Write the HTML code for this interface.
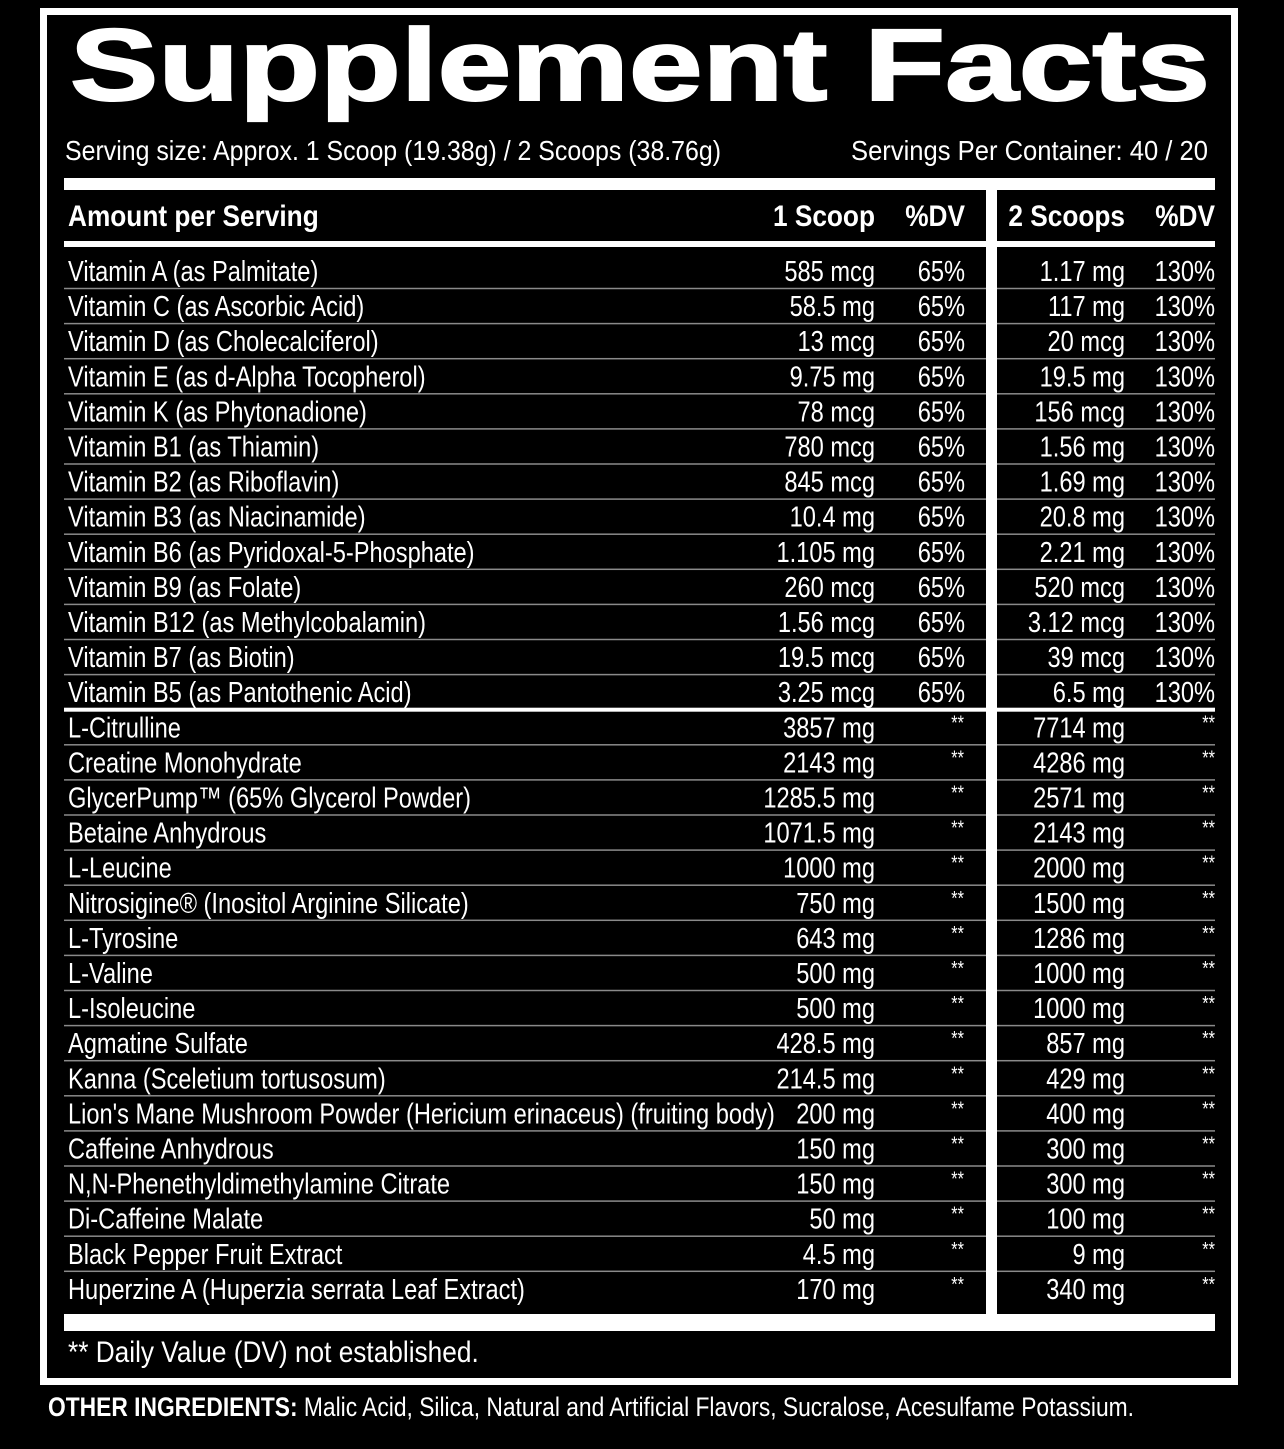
<!DOCTYPE html>
<html><head><meta charset="utf-8"><style>
html,body{margin:0;padding:0;background:#000;}
svg{display:block}
text{font-family:"Liberation Sans",sans-serif;fill:#fff;}
</style></head><body>
<svg width="1284" height="1449" viewBox="0 0 1284 1449" xmlns="http://www.w3.org/2000/svg">
<rect width="1284" height="1449" fill="#000"/>
<rect x="43.5" y="11.5" width="1191" height="1370" fill="none" stroke="#fff" stroke-width="7"/>
<text x="70" y="100" font-weight="bold" font-size="102" textLength="1140" lengthAdjust="spacingAndGlyphs" stroke="#fff" stroke-width="2">Supplement Facts</text>
<text x="65" y="160" font-size="28" fill="#eee" textLength="656" lengthAdjust="spacingAndGlyphs">Serving size: Approx. 1 Scoop (19.38g) / 2 Scoops (38.76g)</text>
<text x="851" y="160" font-size="28" textLength="357" lengthAdjust="spacingAndGlyphs">Servings Per Container: 40 / 20</text>
<rect x="64" y="178" width="1151" height="12" fill="#fff"/>
<rect x="64" y="241" width="1151" height="6" fill="#fff"/>
<rect x="986" y="190" width="11" height="1124" fill="#fff"/>
<rect x="64" y="1314" width="1151" height="17" fill="#fff"/>
<g id="rows" font-size="29"></g>
<text x="48" y="1416" font-size="27" textLength="1086" lengthAdjust="spacingAndGlyphs"><tspan font-weight="bold">OTHER INGREDIENTS:</tspan> Malic Acid, Silica, Natural and Artificial Flavors, Sucralose, Acesulfame Potassium.</text>
</svg>
<script>
var K=0.815;
function t(x,y,s,a,ex,k){return '<text transform="translate('+x+' '+y+') scale('+(k||K)+' 1)"'+(a?' text-anchor="'+a+'"':'')+(ex||'')+'>'+s+'</text>';}
var d=[
["Vitamin A (as Palmitate)","585 mcg","65%","1.17 mg","130%"],
["Vitamin C (as Ascorbic Acid)","58.5 mg","65%","117 mg","130%"],
["Vitamin D (as Cholecalciferol)","13 mcg","65%","20 mcg","130%"],
["Vitamin E (as d-Alpha Tocopherol)","9.75 mg","65%","19.5 mg","130%"],
["Vitamin K (as Phytonadione)","78 mcg","65%","156 mcg","130%"],
["Vitamin B1 (as Thiamin)","780 mcg","65%","1.56 mg","130%"],
["Vitamin B2 (as Riboflavin)","845 mcg","65%","1.69 mg","130%"],
["Vitamin B3 (as Niacinamide)","10.4 mg","65%","20.8 mg","130%"],
["Vitamin B6 (as Pyridoxal-5-Phosphate)","1.105 mg","65%","2.21 mg","130%"],
["Vitamin B9 (as Folate)","260 mcg","65%","520 mcg","130%"],
["Vitamin B12 (as Methylcobalamin)","1.56 mcg","65%","3.12 mcg","130%"],
["Vitamin B7 (as Biotin)","19.5 mcg","65%","39 mcg","130%"],
["Vitamin B5 (as Pantothenic Acid)","3.25 mcg","65%","6.5 mg","130%"],
["L-Citrulline","3857 mg","**","7714 mg","**"],
["Creatine Monohydrate","2143 mg","**","4286 mg","**"],
["GlycerPump™ (65% Glycerol Powder)","1285.5 mg","**","2571 mg","**"],
["Betaine Anhydrous","1071.5 mg","**","2143 mg","**"],
["L-Leucine","1000 mg","**","2000 mg","**"],
["Nitrosigine® (Inositol Arginine Silicate)","750 mg","**","1500 mg","**"],
["L-Tyrosine","643 mg","**","1286 mg","**"],
["L-Valine","500 mg","**","1000 mg","**"],
["L-Isoleucine","500 mg","**","1000 mg","**"],
["Agmatine Sulfate","428.5 mg","**","857 mg","**"],
["Kanna (Sceletium tortusosum)","214.5 mg","**","429 mg","**"],
["Lion's Mane Mushroom Powder (Hericium erinaceus) (fruiting body)","200 mg","**","400 mg","**"],
["Caffeine Anhydrous","150 mg","**","300 mg","**"],
["N,N-Phenethyldimethylamine Citrate","150 mg","**","300 mg","**"],
["Di-Caffeine Malate","50 mg","**","100 mg","**"],
["Black Pepper Fruit Extract","4.5 mg","**","9 mg","**"],
["Huperzine A (Huperzia serrata Leaf Extract)","170 mg","**","340 mg","**"]];
var s='';
var B=' font-weight="bold" font-size="30"';
s+=t(68,226,'Amount per Serving','',B,0.875)+t(875,226,'1 Scoop','end',B,0.875)+t(965,226,'%DV','end',B,0.875)+t(1125,226,'2 Scoops','end',B,0.875)+t(1215,226,'%DV','end',B,0.875);
d.forEach(function(r,i){
 var c=271+35.1*i,b=c+10,st=r[2]=='**';
 var sx=st?' font-size="20"':'';
 s+=t(68,b,r[0]);
 s+=t(875,b,r[1],'end');
 s+=t(st?964:965,st?b-8:b,r[2],'end',sx);
 s+=t(1125,b,r[3],'end');
 s+=t(1215,st?b-8:b,r[4],'end',sx);
 if(i<29){var y=c+17.5;
  if(i==12) s+='<rect x="64" y="'+(y-2)+'" width="1151" height="4" fill="#fff"/>';
  else s+='<rect x="64" y="'+(y-0.75)+'" width="922" height="1.5" fill="#8a8a8a"/><rect x="997" y="'+(y-0.75)+'" width="218" height="1.5" fill="#8a8a8a"/>';}
});
s+=t(68,1362,'** Daily Value (DV) not established.','',' font-size="30"',0.875);
document.getElementById('rows').innerHTML=s;
</script>
</body></html>
